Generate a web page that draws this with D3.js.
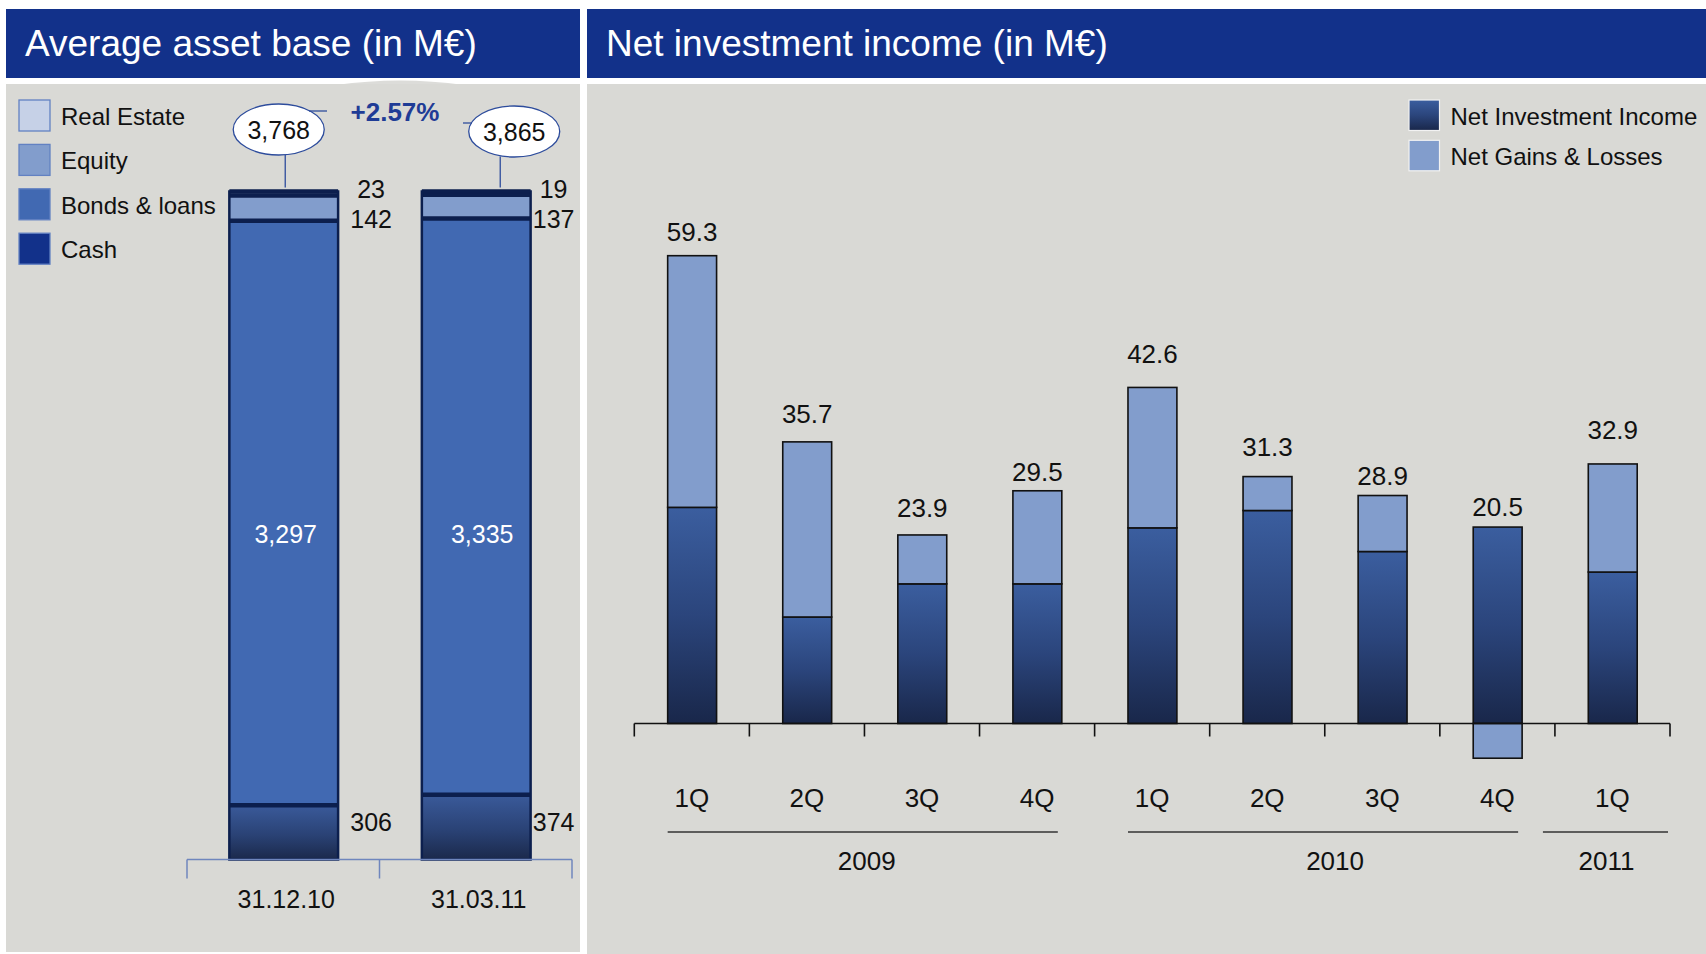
<!DOCTYPE html>
<html>
<head>
<meta charset="utf-8">
<script src="https://cdn.jsdelivr.net/npm/d3@7"></script>
<style>
body { margin: 0; background: #fff; }
svg { display: block; font-family: "Liberation Sans", Arial, sans-serif; }
</style>
</head>
<body>
<svg id="chart" width="1706" height="954"></svg>
<script>
// left chart data (M€)
var assetDates = ["31.12.10", "31.03.11"],
    realEstate = [23, 19],
    equity = [142, 137],
    bonds = [3297, 3335],
    cash = [306, 374];

var assetKeys = ["cash", "bonds", "equity", "realEstate"],          // bottom -> top
    assetLegendKeys = ["realEstate", "equity", "bonds", "cash"],
    assetLegendNames = ["Real Estate", "Equity", "Bonds & loans", "Cash"];

// right chart data (M€)
var quarters = ["1Q", "2Q", "3Q", "4Q", "1Q", "2Q", "3Q", "4Q", "1Q"],
    quarterYears = ["2009", "2009", "2009", "2009", "2010", "2010", "2010", "2010", "2011"],
    netInvestmentIncome = [27.4, 13.5, 17.7, 17.7, 24.8, 27.0, 21.8, 24.9, 19.2],
    netGainsLosses = [31.9, 22.2, 6.2, 11.8, 17.8, 4.3, 7.1, -4.4, 13.7];

var incomeKeys = ["nii", "gains"],
    incomeLegendNames = ["Net Investment Income", "Net Gains & Losses"];

var colors = {
    header: "#12318a",
    panel: "#d9d9d5",
    realEstate: "#c6d1e7",
    equity: "#829dcc",
    bonds: "#4169b2",
    cash: "#12318a",
    barStroke: "#0c1f4e",
    gains: "#829dcc",
    axisBlue: "#6f86bd",
    accent: "#1f3c96",
    text: "#111"
};

var svg = d3.select("#chart");

// gradients
var defs = svg.append("defs");
function addGradient(id, stops) {
    var g = defs.append("linearGradient").attr("id", id)
        .attr("x1", 0).attr("y1", 0).attr("x2", 0).attr("y2", 1);
    stops.forEach(function(s) {
        g.append("stop").attr("offset", s[0]).attr("stop-color", s[1]);
    });
}
addGradient("gradDark", [[0, "#3b5e9f"], [0.5, "#2b457c"], [1, "#19274a"]]);
addGradient("gradCash", [[0, "#3a5a9a"], [0.55, "#2a4275"], [1, "#1b294b"]]);

var fillFor = {
    realEstate: colors.realEstate,
    equity: colors.equity,
    bonds: colors.bonds,
    cash: "url(#gradCash)"
};

// panels + headers
svg.append("path").attr("d", "M336,85 Q400,76 464,85 Z").attr("fill", "#dcdcd9");
svg.append("rect").attr("x", 6).attr("y", 9).attr("width", 574).attr("height", 69).attr("fill", colors.header);
svg.append("rect").attr("x", 587).attr("y", 9).attr("width", 1119).attr("height", 69).attr("fill", colors.header);
svg.append("rect").attr("x", 6).attr("y", 84).attr("width", 574).attr("height", 868).attr("fill", colors.panel);
svg.append("rect").attr("x", 587).attr("y", 84).attr("width", 1119).attr("height", 870).attr("fill", colors.panel);

svg.append("text").attr("x", 25).attr("y", 56).attr("fill", "#fff")
    .style("font-size", "37px").text("Average asset base (in M\u20ac)");
svg.append("text").attr("x", 606).attr("y", 56).attr("fill", "#fff")
    .style("font-size", "37px").text("Net investment income (in M\u20ac)");

// ---------- left: average asset base ----------

var assetRows = assetDates.map(function(d, i) {
    return { date: d, cash: cash[i], bonds: bonds[i], equity: equity[i], realEstate: realEstate[i] };
});
var assetSeries = d3.stack().keys(assetKeys).offset(d3.stackOffsetExpand)(assetRows);
var assetTotals = assetRows.map(function(r) { return d3.sum(assetKeys, function(k) { return r[k]; }); });

var xL = d3.scaleBand().domain(assetDates).range([187, 572]),
    yL = d3.scaleLinear().domain([0, 1]).range([859.5, 191.5]),
    barLW = xL.bandwidth() * 0.565;
function barLX(d) { return xL(d) + xL.bandwidth() * 0.22; }

var left = svg.append("g");

left.selectAll("g.layer")
    .data(assetSeries).enter()
    .append("g").attr("class", "layer")
    .attr("fill", function(s) { return fillFor[s.key]; })
    .selectAll("rect")
    .data(function(s) { return s; }).enter()
    .append("rect")
    .attr("x", function(d) { return barLX(d.data.date); })
    .attr("width", barLW)
    .attr("y", function(d) { return yL(d[1]); })
    .attr("height", function(d) { return yL(d[0]) - yL(d[1]); });

// segment separators
assetSeries.forEach(function(s) {
    left.selectAll(null).data(s).enter()
        .append("line")
        .attr("x1", function(d) { return barLX(d.data.date); })
        .attr("x2", function(d) { return barLX(d.data.date) + barLW; })
        .attr("y1", function(d) { return yL(d[1]); })
        .attr("y2", function(d) { return yL(d[1]); })
        .attr("stroke", colors.barStroke).attr("stroke-width", 4.5);
});
left.selectAll("rect.outline")
    .data(assetDates).enter()
    .append("rect").attr("class", "outline")
    .attr("x", barLX).attr("width", barLW)
    .attr("y", yL(1)).attr("height", yL(0) - yL(1))
    .attr("fill", "none").attr("stroke", colors.barStroke).attr("stroke-width", 2.5);

// axis with bracket ticks
left.append("line").attr("x1", xL.range()[0]).attr("x2", xL.range()[1])
    .attr("y1", yL(0)).attr("y2", yL(0)).attr("stroke", colors.axisBlue).attr("stroke-width", 1.5);
left.selectAll("line.tick")
    .data(assetDates.map(xL).concat([xL.range()[1]])).enter()
    .append("line").attr("class", "tick")
    .attr("x1", function(d) { return d; }).attr("x2", function(d) { return d; })
    .attr("y1", yL(0)).attr("y2", yL(0) + 19)
    .attr("stroke", colors.axisBlue).attr("stroke-width", 1.5);

var leftAxis = left.append("g")
    .attr("transform", "translate(0," + yL(0) + ")")
    .call(d3.axisBottom(xL).tickSize(0));
leftAxis.select(".domain").remove();
leftAxis.selectAll("text")
    .attr("x", 3).attr("y", 39.5).attr("dy", 0).attr("dominant-baseline", "central")
    .attr("fill", colors.text).style("font-size", "25px")
    .style("font-family", "\"Liberation Sans\", Arial, sans-serif");

// value labels beside the bars
var labelGap = [33, 23], innerShift = [2, 6];
var fmt = d3.format(",");
assetRows.forEach(function(r, i) {
    var cx = barLX(r.date) + barLW + labelGap[i];
    var lab = [
        [r.realEstate, yL(1) - 3],
        [r.equity, yL(1) + 27.5],
        [r.cash, yL(0) - 38]
    ];
    lab.forEach(function(l) {
        left.append("text").attr("x", cx).attr("y", l[1])
            .attr("text-anchor", "middle").attr("dominant-baseline", "central")
            .attr("fill", colors.text).style("font-size", "25px").text(fmt(l[0]));
    });
    left.append("text")
        .attr("x", barLX(r.date) + barLW / 2 + innerShift[i])
        .attr("y", yL(0.5) + 8.5)
        .attr("text-anchor", "middle").attr("dominant-baseline", "central")
        .attr("fill", "#fff").style("font-size", "25px").text(fmt(r.bonds));
});

// total bubbles
var bubbleShift = [-5, 38], leaderShift = [1.5, 24], bubbleY = [129.5, 131.5];
assetRows.forEach(function(r, i) {
    var cx = barLX(r.date) + barLW / 2;
    left.append("line")
        .attr("x1", cx + leaderShift[i]).attr("x2", cx + leaderShift[i])
        .attr("y1", bubbleY[i] + 25).attr("y2", yL(1) - 4)
        .attr("stroke", "#2d4c9c").attr("stroke-width", 1.3);
    left.append("ellipse")
        .attr("cx", cx + bubbleShift[i]).attr("cy", bubbleY[i])
        .attr("rx", 45.5).attr("ry", 25.5)
        .attr("fill", "#fff").attr("stroke", "#2d4c9c").attr("stroke-width", 1.3);
    left.append("text")
        .attr("x", cx + bubbleShift[i]).attr("y", bubbleY[i] + 0.5)
        .attr("text-anchor", "middle").attr("dominant-baseline", "central")
        .attr("fill", colors.text).style("font-size", "25px").text(fmt(assetTotals[i]));
});
left.append("line").attr("x1", 309).attr("x2", 327).attr("y1", 111).attr("y2", 111)
    .attr("stroke", "#2d4c9c").attr("stroke-width", 1.3);
left.append("line").attr("x1", 463).attr("x2", 472).attr("y1", 123).attr("y2", 123)
    .attr("stroke", "#2d4c9c").attr("stroke-width", 1.3);
left.append("text").attr("x", 395).attr("y", 112)
    .attr("text-anchor", "middle").attr("dominant-baseline", "central")
    .attr("fill", colors.accent).style("font-size", "26px").style("font-weight", "bold")
    .text(d3.format("+.2%")(assetTotals[1] / assetTotals[0] - 1));

// legend
var legL = left.selectAll("g.leg")
    .data(assetLegendKeys).enter()
    .append("g").attr("class", "leg")
    .attr("transform", function(d, i) { return "translate(19," + (100 + i * 44.4) + ")"; });
legL.append("rect").attr("width", 31).attr("height", 31)
    .attr("fill", function(d) { return d === "cash" ? colors.cash : fillFor[d]; })
    .attr("stroke", "#6281c2").attr("stroke-width", 1.3);
legL.append("text").attr("x", 42).attr("y", 16.5).attr("dominant-baseline", "central")
    .attr("fill", colors.text).style("font-size", "24px")
    .text(function(d, i) { return assetLegendNames[i]; });

// ---------- right: net investment income ----------

var quarterKeys = quarters.map(function(q, i) { return q + " " + quarterYears[i]; });
var incomeRows = quarterKeys.map(function(k, i) {
    return { key: k, nii: netInvestmentIncome[i], gains: netGainsLosses[i] };
});
var incomeSeries = d3.stack().keys(incomeKeys).offset(d3.stackOffsetDiverging)(incomeRows);
var incomeTotals = incomeRows.map(function(r) { return r.nii + r.gains; });
var incomeTops = incomeRows.map(function(r) { return Math.max(0, r.nii) + Math.max(0, r.gains); });

var xR = d3.scaleBand().domain(quarterKeys).range([634.3, 1670]),
    yR = d3.scaleLinear().domain([0, d3.max(incomeTops)]).range([723.5, 255.7]),
    barRW = xR.bandwidth() * 0.425;
function barRX(k) { return xR(k) + xR.bandwidth() * 0.29; }

var right = svg.append("g");

right.selectAll("g.layer")
    .data(incomeSeries).enter()
    .append("g").attr("class", "layer")
    .attr("fill", function(s) { return s.key === "nii" ? "url(#gradDark)" : colors.gains; })
    .selectAll("rect")
    .data(function(s) { return s; }).enter()
    .append("rect")
    .attr("x", function(d) { return barRX(d.data.key); })
    .attr("width", barRW)
    .attr("y", function(d) { return yR(Math.max(d[0], d[1])); })
    .attr("height", function(d) { return Math.abs(yR(d[0]) - yR(d[1])); })
    .attr("stroke", "#111").attr("stroke-width", 1.6);

// baseline + ticks at band edges
right.append("line").attr("x1", xR.range()[0]).attr("x2", xR.range()[1])
    .attr("y1", yR(0)).attr("y2", yR(0)).attr("stroke", "#111").attr("stroke-width", 1.6);
right.selectAll("line.tick")
    .data(quarterKeys.map(xR).concat([xR.range()[1]])).enter()
    .append("line").attr("class", "tick")
    .attr("x1", function(d) { return d; }).attr("x2", function(d) { return d; })
    .attr("y1", yR(0)).attr("y2", yR(0) + 13)
    .attr("stroke", "#111").attr("stroke-width", 1.6);

var rightAxis = right.append("g")
    .attr("transform", "translate(0," + yR(0) + ")")
    .call(d3.axisBottom(xR).tickSize(0).tickFormat(function(k, i) { return quarters[i]; }));
rightAxis.select(".domain").remove();
rightAxis.selectAll("text")
    .attr("y", 74).attr("dy", 0).attr("dominant-baseline", "central")
    .attr("fill", colors.text).style("font-size", "26px")
    .style("font-family", "\"Liberation Sans\", Arial, sans-serif");

// value labels (the original deck places them a little unevenly)
var labelNudge = [0, -4.4, -3.3, 4.4, -9.8, -6.5, 4.4, 3.3, -10.9];
right.selectAll("text.val")
    .data(incomeRows).enter()
    .append("text").attr("class", "val")
    .attr("x", function(d) { return barRX(d.key) + barRW / 2; })
    .attr("y", function(d, i) { return yR(incomeTops[i]) - 23.5 + labelNudge[i]; })
    .attr("text-anchor", "middle").attr("dominant-baseline", "central")
    .attr("fill", colors.text).style("font-size", "26px")
    .text(function(d, i) { return d3.format(".1f")(incomeTotals[i]); });

// year groups
var years = Array.from(new Set(quarterYears)),
    yearNudge = [4, 12, 1];
years.forEach(function(y, yi) {
    var ks = quarterKeys.filter(function(k, i) { return quarterYears[i] === y; });
    var x1, x2;
    if (ks.length === 1) {
        x1 = xR(ks[0]) - 12;
        x2 = xR(ks[0]) + xR.step() - 2;
    } else {
        x1 = barRX(ks[0]);
        x2 = barRX(ks[ks.length - 1]) + barRW - 4;
    }
    right.append("line").attr("x1", x1).attr("x2", x2).attr("y1", 832).attr("y2", 832)
        .attr("stroke", "#333").attr("stroke-width", 1.3);
    right.append("text").attr("x", (x1 + x2) / 2 + yearNudge[yi]).attr("y", 860.5)
        .attr("text-anchor", "middle").attr("dominant-baseline", "central")
        .attr("fill", colors.text).style("font-size", "26px").text(y);
});

// legend
var legR = right.selectAll("g.leg")
    .data(incomeKeys).enter()
    .append("g").attr("class", "leg")
    .attr("transform", function(d, i) { return "translate(1409," + (100 + i * 40.3) + ")"; });
legR.append("rect").attr("width", 30.5).attr("height", 30.5)
    .attr("fill", function(d) { return d === "nii" ? "url(#gradDark)" : colors.gains; })
    .attr("stroke", "#f2f2f2").attr("stroke-width", 1.2);
legR.append("text").attr("x", 41.5).attr("y", 16.5).attr("dominant-baseline", "central")
    .attr("fill", colors.text).style("font-size", "24px")
    .text(function(d, i) { return incomeLegendNames[i]; });
</script>
</body>
</html>
